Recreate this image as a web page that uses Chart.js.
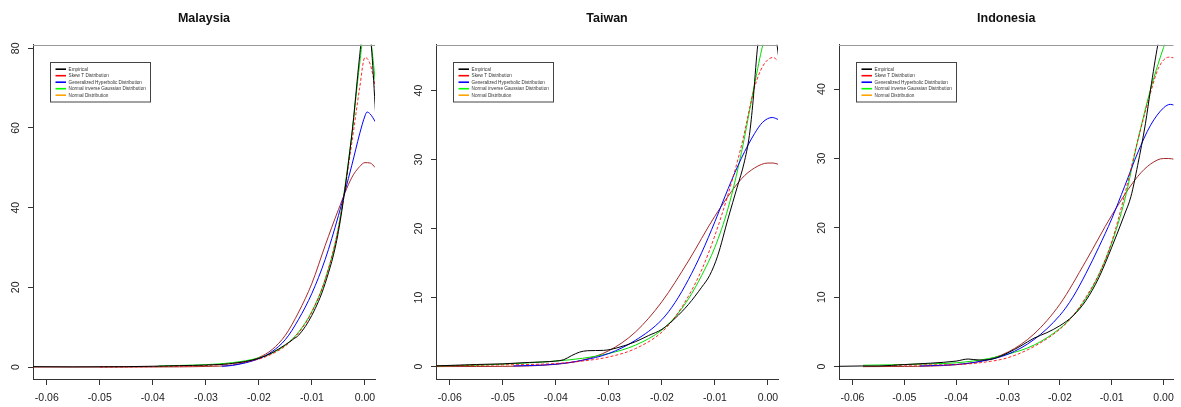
<!DOCTYPE html>
<html>
<head>
<meta charset="utf-8">
<script src="https://cdn.jsdelivr.net/npm/chart.js@4.4.0/dist/chart.umd.min.js"></script>
<style>
  html, body { margin: 0; padding: 0; background: #fff; }
  #wrap { position: relative; width: 1181px; height: 407px; overflow: hidden; }
  canvas { position: absolute; top: 0; }
</style>
</head>
<body>
<div id="wrap">
  <canvas id="c1" width="400" height="407" style="left:0px"></canvas>
  <canvas id="c2" width="400" height="407" style="left:400px"></canvas>
  <canvas id="c3" width="381" height="407" style="left:800px"></canvas>
</div>
<script>
// categories / tick labels
const countries = ['Malaysia', 'Taiwan', 'Indonesia'];
const seriesNames = ['Empirical', 'Skew T Distribution', 'Generalized Hyperbolic Distribution',
                     'Normal inverse Gaussian Distribution', 'Normal Distribution'];
const xTicks = [-0.06, -0.05, -0.04, -0.03, -0.02, -0.01, 0];
const yTicksMY = [0, 20, 40, 60, 80];
const yTicksTW = [0, 10, 20, 30, 40];
const yTicksID = [0, 10, 20, 30, 40];

// Malaysia  [return, density]
const myEmp = [[-0.0626,0.1],[-0.055,0.05],[-0.045,0.1],[-0.04,0.2],[-0.035,0.35],[-0.03,0.5],[-0.025,0.9],[-0.02,2.2],[-0.0175,3.6],[-0.015,5.6],[-0.0135,7.0],[-0.0125,8.0],[-0.01,13],[-0.0075,21],[-0.005,34],[-0.0025,58],[-0.001,78],[0,89],[0.0008,86],[0.0013,79],[0.002,64]];
const mySkewT = [[-0.05,0],[-0.04,0.1],[-0.03,0.4],[-0.025,0.9],[-0.02,2.0],[-0.0175,3.3],[-0.015,5.3],[-0.0125,8.6],[-0.01,13.8],[-0.0075,22],[-0.005,35],[-0.0025,56],[-0.001,70],[0,77.7],[0.001,76],[0.002,70]];
const myGH = [[-0.027,0.2],[-0.025,0.4],[-0.02,2.1],[-0.0175,3.9],[-0.015,6.9],[-0.0125,12],[-0.01,18.5],[-0.0075,27],[-0.005,38],[-0.0025,50.5],[-0.001,58.5],[0,63],[0.0004,64],[0.001,63.5],[0.002,61.5]];
const myNIG = [[-0.039,0.25],[-0.035,0.4],[-0.03,0.6],[-0.025,1.1],[-0.02,2.3],[-0.0175,3.5],[-0.015,5.5],[-0.0125,8.8],[-0.01,14],[-0.0075,22],[-0.005,35],[-0.0025,58],[-0.001,76],[0,85],[0.0007,85],[0.0013,80],[0.002,71]];
const myNormal = [[-0.0626,0],[-0.045,0],[-0.04,0.02],[-0.035,0.05],[-0.03,0.15],[-0.025,0.5],[-0.02,2.4],[-0.0175,4.4],[-0.015,8],[-0.0125,13.8],[-0.01,21],[-0.0075,30.5],[-0.005,39.5],[-0.0025,47.5],[-0.001,50.3],[0,51.3],[0.001,51.2],[0.002,50]];

// Taiwan
const twEmp = [[-0.0626,0.1],[-0.055,0.3],[-0.05,0.4],[-0.045,0.6],[-0.04,0.8],[-0.0385,1.0],[-0.037,1.6],[-0.0355,2.1],[-0.034,2.3],[-0.031,2.35],[-0.0285,2.7],[-0.025,3.6],[-0.0225,4.5],[-0.02,5.4],[-0.0175,7.0],[-0.015,9.0],[-0.0125,11.5],[-0.011,13.2],[-0.0095,16],[-0.0075,21.5],[-0.0058,26],[-0.0045,29.5],[-0.0035,33.5],[-0.0028,38.5],[-0.002,46],[-0.001,51.5],[0,53],[0.001,50.5],[0.002,45]];
const twSkewT = [[-0.0626,0.1],[-0.055,0.2],[-0.05,0.25],[-0.045,0.3],[-0.04,0.45],[-0.035,0.8],[-0.03,1.4],[-0.025,2.6],[-0.02,5.0],[-0.0175,7.2],[-0.015,10.2],[-0.0125,14],[-0.01,19],[-0.0075,25],[-0.005,32],[-0.0025,40.5],[-0.001,43.5],[0.001,44.8],[0.002,44.2]];
const twGH = [[-0.048,0.1],[-0.045,0.15],[-0.04,0.35],[-0.035,0.9],[-0.03,1.9],[-0.025,3.8],[-0.02,6.8],[-0.0175,9.3],[-0.015,12.6],[-0.0125,16.5],[-0.01,21],[-0.0075,25.8],[-0.005,30.2],[-0.0025,33.8],[-0.001,35.4],[0.0008,36.1],[0.002,35.8]];
const twNIG = [[-0.0626,0.1],[-0.055,0.2],[-0.05,0.35],[-0.045,0.55],[-0.04,0.8],[-0.035,1.2],[-0.03,1.9],[-0.025,3.1],[-0.02,5.3],[-0.0175,7.2],[-0.015,9.8],[-0.0125,13.2],[-0.01,17.3],[-0.0075,23],[-0.005,31],[-0.0025,41],[-0.001,46.5],[0,49],[0.001,49.5],[0.002,48.5]];
const twNormal = [[-0.0626,0],[-0.055,0.01],[-0.05,0.03],[-0.045,0.1],[-0.04,0.33],[-0.035,0.93],[-0.03,2.3],[-0.025,5.0],[-0.02,9.4],[-0.015,15.3],[-0.01,21.8],[-0.005,27.2],[-0.0025,28.8],[0,29.5],[0.001,29.5],[0.002,29.3]];

// Indonesia
const idEmp = [[-0.0626,0.05],[-0.058,0.1],[-0.055,0.1],[-0.05,0.3],[-0.045,0.5],[-0.04,0.8],[-0.0377,1.1],[-0.0355,0.95],[-0.033,1.1],[-0.03,2.0],[-0.0275,3.0],[-0.025,4.1],[-0.0225,4.9],[-0.02,5.9],[-0.0175,7.3],[-0.015,9.5],[-0.0125,12.8],[-0.01,17.2],[-0.0075,22],[-0.0063,24.5],[-0.005,29],[-0.0035,35],[-0.0025,40],[-0.0011,46.4],[0,50],[0.001,52],[0.002,53]];
const idSkewT = [[-0.052,0.2],[-0.045,0.25],[-0.04,0.3],[-0.035,0.6],[-0.03,1.3],[-0.025,2.9],[-0.02,5.4],[-0.0175,7.3],[-0.015,10],[-0.0125,13.3],[-0.01,18],[-0.0075,24.8],[-0.005,32.5],[-0.0025,39.5],[-0.001,43],[0.001,44.6],[0.002,44.5]];
const idGH = [[-0.047,0.1],[-0.045,0.15],[-0.04,0.3],[-0.035,0.8],[-0.03,1.8],[-0.025,3.9],[-0.02,7.4],[-0.0175,10],[-0.015,13.4],[-0.0125,17.2],[-0.01,21.3],[-0.0075,26],[-0.005,30.8],[-0.0025,34.8],[0,37.3],[0.0013,37.8],[0.002,37.7]];
const idNIG = [[-0.058,0.2],[-0.05,0.3],[-0.045,0.4],[-0.04,0.55],[-0.035,1.0],[-0.03,1.8],[-0.025,3.1],[-0.02,5.5],[-0.0175,7.3],[-0.015,9.8],[-0.0125,13.2],[-0.01,17.8],[-0.0075,24],[-0.005,32.5],[-0.0025,40],[0,46],[0.001,48],[0.002,49]];
const idNormal = [[-0.058,0],[-0.05,0.03],[-0.045,0.08],[-0.04,0.29],[-0.035,0.84],[-0.03,2.1],[-0.025,4.7],[-0.02,9.0],[-0.015,15.2],[-0.01,21.8],[-0.005,27.4],[-0.0025,29.2],[0,30],[0.001,30],[0.002,29.9]];

const lineColors = ['#000000', 'rgba(255,0,0,0.85)', '#0000ff', '#00dd00', '#a52a2a'];
const legendColors = ['#000000', '#ff0000', '#0000ff', '#00ff00', '#ffa500'];
const FONT = '"Liberation Sans", Arial, sans-serif';

// top border, rotated y labels, legend box
const decor = {
  id: 'decor',
  afterDraw(chart, args, opts) {
    const ctx = chart.ctx, a = chart.chartArea, ys = chart.scales.y;
    ctx.save();
    ctx.strokeStyle = '#999';
    ctx.lineWidth = 1;
    ctx.beginPath();
    ctx.moveTo(a.left, Math.round(a.top) + 0.5);
    ctx.lineTo(a.right, Math.round(a.top) + 0.5);
    ctx.stroke();

    ctx.fillStyle = '#222';
    ctx.font = '10.5px ' + FONT;
    ctx.textAlign = 'center';
    ctx.textBaseline = 'middle';
    opts.yTicks.forEach(v => {
      ctx.save();
      ctx.translate(a.left - 17, ys.getPixelForValue(v));
      ctx.rotate(-Math.PI / 2);
      ctx.fillText(String(v), 0, 0);
      ctx.restore();
    });

    const bx = Math.round(a.left + 17) + 0.5, by = Math.round(a.top + 17.5) + 0.5;
    ctx.strokeStyle = '#444';
    ctx.strokeRect(bx, by, 100, 39.5);
    ctx.font = '4.7px ' + FONT;
    ctx.textAlign = 'left';
    ctx.fillStyle = '#333';
    chart.data.datasets.forEach((ds, i) => {
      const yy = by + 6.7 + i * 6.5;
      ctx.strokeStyle = legendColors[i];
      ctx.lineWidth = 1.6;
      ctx.beginPath();
      ctx.moveTo(bx + 5, yy);
      ctx.lineTo(bx + 15.5, yy);
      ctx.stroke();
      ctx.fillText(ds.label, bx + 18, yy + 0.3);
    });
    ctx.restore();
  }
};

function makeChart(id, title, series, yMin, yMax, yTicks, axisLeft, padRight) {
  const datasets = seriesNames.map((name, i) => ({
    label: name,
    data: series[i].map(p => ({ x: p[0], y: p[1] })),
    borderColor: lineColors[i],
    borderWidth: 1,
    borderDash: i === 1 ? [3, 2] : [],
    pointRadius: 0,
    fill: false,
    cubicInterpolationMode: 'monotone'
  }));
  return new Chart(document.getElementById(id), {
    type: 'line',
    data: { datasets: datasets },
    plugins: [decor],
    options: {
      responsive: false,
      animation: false,
      events: [],
      layout: { padding: { left: 0, right: padRight, top: 0, bottom: 0 } },
      plugins: {
        legend: { display: false },
        tooltip: { enabled: false },
        title: {
          display: true, text: title, fullSize: false, color: '#111',
          font: { family: FONT, size: 12.5, weight: 'bold' },
          padding: { top: 11.5, bottom: 18.2 }
        },
        decor: { yTicks: yTicks }
      },
      scales: {
        x: {
          type: 'linear', min: -0.0626, max: 0.0019,
          afterBuildTicks: s => { s.ticks = xTicks.map(v => ({ value: v })); },
          afterFit: s => { s.height = 28; },
          grid: { display: true, drawOnChartArea: false, drawTicks: true, tickLength: 6, color: '#333' },
          border: { display: true, color: '#333' },
          ticks: { padding: 7, color: '#222', maxRotation: 0, autoSkip: false,
                   font: { family: FONT, size: 10.5 }, callback: v => v.toFixed(2) }
        },
        y: {
          type: 'linear', min: yMin, max: yMax,
          afterBuildTicks: s => { s.ticks = yTicks.map(v => ({ value: v })); },
          afterFit: s => { s.width = axisLeft; },
          grid: { display: true, drawOnChartArea: false, drawTicks: true, tickLength: 5, color: '#333' },
          border: { display: true, color: '#333' },
          ticks: { display: false }
        }
      }
    }
  });
}

makeChart('c1', countries[0], [myEmp, mySkewT, myGH, myNIG, myNormal], -3.0, 80.9, yTicksMY, 33, 25);
makeChart('c2', countries[1], [twEmp, twSkewT, twGH, twNIG, twNormal], -1.8, 46.65, yTicksTW, 36, 22);
makeChart('c3', countries[2], [idEmp, idSkewT, idGH, idNIG, idNormal], -1.78, 46.4, yTicksID, 39, 0);
</script>
</body>
</html>
